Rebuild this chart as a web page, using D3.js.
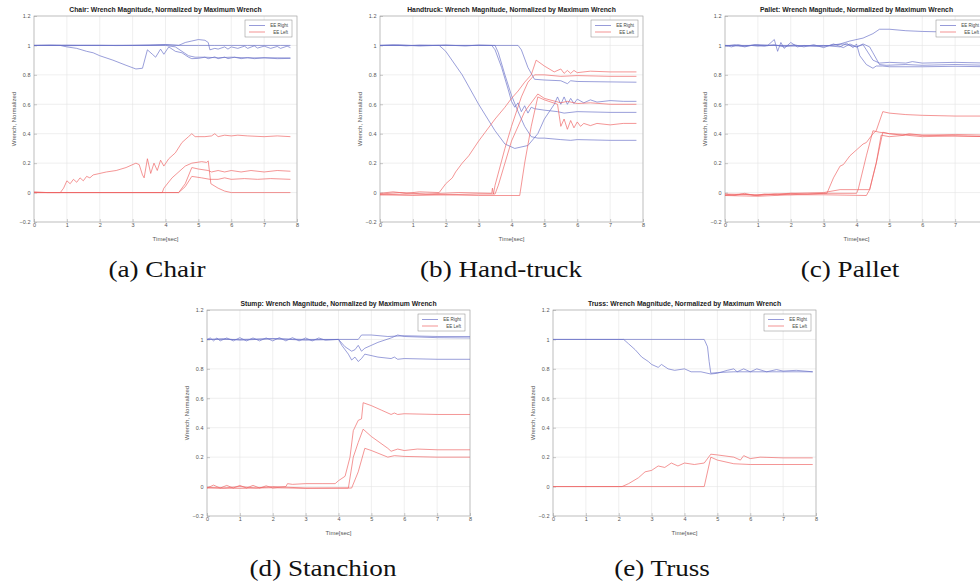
<!DOCTYPE html>
<html>
<head>
<meta charset="utf-8">
<script src="https://cdn.jsdelivr.net/npm/d3@7"></script>
<style>
  body { margin: 0; background: #fff; }
</style>
</head>
<body>
<div class="chart"></div>
<script>
const xTicks = [0, 1, 2, 3, 4, 5, 6, 7, 8];
const yTicks = [-0.2, 0, 0.2, 0.4, 0.6, 0.8, 1, 1.2];
const legendLabels = ['EE Right', 'EE Left'];

// EE Right (blue) and EE Left (red) traces, [time, normalized wrench]
const chairRight = [
  [[0,1],[0.5,1.002],[1,0.998],[1.5,1],[2,1.001],[2.5,0.999],[3,1],[3.5,1],[4,1.004],[4.5,1],[5,1],[5.5,1],[6,1],[6.5,1],[7,1],[7.5,1],[7.8,1]],
  [[0,1],[1,1.002],[2,1],[3,1.001],[4,1.006],[4.4,1],[4.6,1.02],[4.8,1.03],[5,1.04],[5.2,1.035],[5.3,1.02],[5.35,0.97],[5.5,0.98],[5.6,0.975],[5.8,0.99],[5.9,0.975],[6,0.99],[6.2,0.98],[6.4,0.995],[6.5,0.98],[6.7,0.997],[6.8,0.982],[7,0.995],[7.2,0.98],[7.4,0.993],[7.5,0.98],[7.7,0.995],[7.8,0.985]],
  [[0,1],[0.8,1],[1,0.99],[1.3,0.98],[1.6,0.96],[1.8,0.95],[2,0.93],[2.4,0.9],[2.8,0.865],[3.1,0.84],[3.3,0.845],[3.45,0.97],[3.6,0.94],[3.7,0.92],[3.85,0.975],[3.95,0.94],[4.1,0.99],[4.3,0.96],[4.5,0.95],[4.7,0.92],[4.8,0.91],[5,0.912],[5.2,0.92],[5.3,0.91],[5.5,0.922],[5.6,0.91],[5.8,0.921],[5.9,0.91],[6.1,0.92],[6.3,0.91],[6.5,0.918],[6.7,0.91],[7,0.916],[7.4,0.91],[7.8,0.912]],
  [[0,1],[2,1],[4,1],[4.3,0.99],[4.5,0.96],[4.7,0.93],[4.9,0.92],[5.2,0.92],[5.6,0.916],[6,0.92],[6.5,0.915],[7,0.916],[7.8,0.915]]
];
const chairLeft = [
  [[0,0.005],[0.4,0],[0.8,0],[0.9,0.03],[1,0.08],[1.1,0.06],[1.2,0.09],[1.3,0.07],[1.4,0.1],[1.5,0.08],[1.6,0.11],[1.7,0.1],[1.8,0.12],[2,0.13],[2.2,0.14],[2.5,0.15],[2.8,0.17],[3.1,0.2],[3.2,0.19],[3.3,0.12],[3.35,0.1],[3.45,0.23],[3.55,0.13],[3.65,0.2],[3.75,0.15],[3.85,0.22],[3.95,0.18],[4.1,0.23],[4.3,0.27],[4.5,0.34],[4.7,0.38],[4.8,0.4],[4.9,0.38],[5.2,0.38],[5.4,0.385],[5.5,0.4],[5.6,0.38],[5.8,0.39],[6,0.385],[6.2,0.39],[6.5,0.385],[7,0.38],[7.4,0.385],[7.8,0.38]],
  [[0,0],[2,0],[3.9,0],[3.95,0.03],[4.2,0.1],[4.6,0.18],[4.8,0.2],[5.1,0.21],[5.25,0.205],[5.3,0.215],[5.38,0.06],[5.6,0.03],[5.8,0.01],[6,0],[7,0],[7.8,0]],
  [[0,0],[4.4,0],[4.6,0.06],[4.8,0.17],[5,0.16],[5.3,0.15],[5.4,0.14],[5.6,0.15],[5.8,0.14],[6,0.15],[6.3,0.14],[6.6,0.15],[7,0.14],[7.4,0.15],[7.8,0.145]],
  [[0,0],[4.4,0],[4.6,0.04],[4.8,0.11],[5.1,0.1],[5.35,0.09],[5.6,0.09],[5.8,0.1],[6,0.09],[6.4,0.095],[6.8,0.09],[7.2,0.095],[7.8,0.09]]
];

const handtruckRight = [
  [[0,1],[0.4,1.003],[0.8,0.997],[1.2,1.002],[1.8,1],[2,0.96],[2.5,0.8],[3,0.6],[3.5,0.42],[3.8,0.33],[4.1,0.3],[4.5,0.32],[4.8,0.4],[5,0.5],[5.3,0.6],[5.4,0.65],[5.5,0.6],[5.6,0.65],[5.7,0.6],[5.8,0.64],[5.9,0.605],[6,0.635],[6.2,0.61],[6.4,0.63],[6.6,0.615],[7,0.625],[7.4,0.62],[7.8,0.62]],
  [[0,1],[0.6,1.004],[1.2,0.996],[2,1.003],[2.6,0.996],[3,1.003],[3.4,1],[3.5,0.97],[3.7,0.85],[3.9,0.7],[4,0.62],[4.1,0.58],[4.2,0.61],[4.3,0.55],[4.4,0.59],[4.5,0.54],[4.6,0.58],[4.7,0.57],[5,0.56],[5.4,0.55],[5.6,0.54],[6,0.55],[7,0.545],[7.8,0.545]],
  [[0,1],[1.5,1],[3,1],[3.5,1],[3.6,0.95],[3.8,0.8],[4,0.66],[4.2,0.55],[4.4,0.45],[4.6,0.38],[4.8,0.37],[5,0.37],[5.5,0.36],[5.8,0.355],[6,0.36],[7,0.355],[7.8,0.355]],
  [[0,1],[2,1],[4.2,1],[4.3,0.97],[4.5,0.85],[4.7,0.77],[5,0.765],[5.5,0.76],[5.7,0.74],[5.8,0.76],[6,0.755],[7,0.752],[7.8,0.75]]
];
const handtruckLeft = [
  [[0,-0.005],[0.4,0.005],[0.8,-0.005],[1.2,0.005],[1.8,0],[2,0.06],[2.2,0.1],[2.3,0.14],[2.5,0.2],[2.7,0.25],[3,0.35],[3.2,0.41],[3.5,0.5],[3.8,0.58],[4,0.64],[4.2,0.69],[4.4,0.75],[4.6,0.8],[4.75,0.9],[5,0.86],[5.3,0.82],[5.5,0.84],[5.6,0.81],[5.7,0.83],[5.8,0.81],[5.9,0.83],[6,0.815],[6.4,0.825],[7,0.82],[7.8,0.82]],
  [[0,-0.01],[0.6,0],[1.4,-0.01],[2.4,0],[3.4,-0.005],[3.42,0.03],[3.45,-0.01],[3.5,0.05],[3.8,0.3],[4,0.45],[4.3,0.65],[4.5,0.75],[4.7,0.8],[4.8,0.8],[5,0.8],[5.5,0.79],[6,0.795],[7,0.79],[7.8,0.79]],
  [[0,-0.015],[1,-0.01],[2,-0.015],[3,-0.01],[3.5,-0.01],[3.6,0.05],[4,0.35],[4.4,0.55],[4.8,0.67],[5,0.64],[5.5,0.61],[5.7,0.62],[6,0.605],[6.4,0.61],[7,0.6],[7.8,0.6]],
  [[0,-0.015],[1,-0.02],[2,-0.015],[3,-0.02],[4.25,-0.02],[4.4,0.2],[4.6,0.45],[4.8,0.65],[5,0.63],[5.4,0.6],[5.5,0.45],[5.6,0.5],[5.7,0.43],[5.8,0.49],[5.9,0.44],[6,0.48],[6.1,0.45],[6.2,0.47],[6.4,0.455],[6.6,0.47],[7,0.46],[7.4,0.47],[7.8,0.47]]
];

const palletRight = [
  [[0,1],[0.2,0.99],[0.4,1.005],[0.6,0.995],[0.8,1],[1,0.995],[1.3,1],[1.5,1.04],[1.6,0.96],[1.7,1.02],[1.8,0.98],[2,1.02],[2.2,0.99],[2.4,1],[2.8,0.995],[3.2,1],[3.5,1.01],[3.8,1.03],[4.2,1.05],[4.5,1.08],[4.7,1.11],[5,1.11],[5.5,1.1],[6,1.095],[7,1.09],[8,1.09]],
  [[0,0.995],[0.3,1.005],[0.6,0.99],[0.9,1.005],[1.2,0.995],[1.5,1.005],[1.8,0.99],[2.1,1.005],[2.4,0.99],[2.7,1.005],[3,0.985],[3.3,1.01],[3.6,0.985],[3.8,1.01],[4,0.99],[4.2,1.005],[4.3,0.97],[4.5,0.9],[4.7,0.88],[5,0.885],[5.5,0.88],[5.7,0.89],[6,0.88],[7,0.885],[8,0.88]],
  [[0,1],[0.5,0.995],[1,1.005],[2,0.995],[3,1],[3.5,0.99],[3.7,1.015],[3.9,0.985],[4,1.01],[4.1,0.93],[4.3,0.87],[4.5,0.845],[4.6,0.86],[4.8,0.86],[5,0.855],[6,0.855],[7,0.858],[8,0.855]],
  [[0,1],[1,1],[2,1],[3,0.995],[3.6,1.01],[4,0.99],[4.2,1.01],[4.4,0.99],[4.5,0.95],[4.7,0.87],[4.9,0.865],[5.5,0.87],[6,0.865],[7,0.87],[8,0.865]]
];
const palletLeft = [
  [[0,-0.01],[0.3,-0.02],[0.6,-0.005],[0.9,-0.02],[1.2,-0.01],[1.6,-0.015],[2,-0.005],[2.5,-0.01],[3.1,-0.005],[3.3,0.1],[3.5,0.18],[3.6,0.19],[3.8,0.25],[4,0.29],[4.2,0.33],[4.3,0.34],[4.5,0.4],[4.6,0.42],[4.8,0.55],[5,0.54],[5.5,0.53],[6,0.525],[7,0.52],[8,0.52]],
  [[0,-0.02],[0.5,-0.01],[1,-0.02],[1.5,-0.01],[2,-0.015],[3,-0.005],[4,-0.005],[4.05,0.02],[4.3,0.25],[4.5,0.42],[4.7,0.41],[5,0.4],[5.4,0.39],[5.6,0.4],[6,0.39],[7,0.385],[8,0.38]],
  [[0,-0.01],[1,-0.015],[2,-0.005],[3,0],[3.5,0.02],[4,0.02],[4.4,0.02],[4.6,0.2],[4.8,0.41],[5,0.4],[5.5,0.395],[6,0.39],[7,0.395],[8,0.39]],
  [[0,-0.02],[1,-0.025],[2,-0.015],[3,-0.015],[4.3,-0.02],[4.4,0.02],[4.6,0.2],[4.75,0.39],[5,0.38],[5.5,0.39],[6,0.38],[7,0.385],[8,0.38]]
];

const stumpRight = [
  [[0,1],[0.1,1.01],[0.2,0.99],[0.3,1.01],[0.4,0.99],[0.6,1.01],[0.8,0.99],[1,1.012],[1.2,0.99],[1.4,1.01],[1.6,0.99],[1.8,1.01],[2,0.99],[2.2,1.012],[2.4,0.99],[2.6,1.012],[2.8,0.99],[3,1.01],[3.2,0.99],[3.4,1.01],[3.6,0.995],[4,1],[4.6,1],[4.7,1.03],[5,1.03],[5.5,1.02],[6,1.025],[7,1.02],[8,1.02]],
  [[0,1],[0.5,1.005],[1,0.995],[2,1.005],[3,0.995],[4,1],[4.2,0.95],[4.4,0.92],[4.5,0.93],[4.6,0.96],[4.7,0.92],[4.8,0.94],[5.2,0.98],[5.6,1.01],[5.8,1.03],[6,1.02],[7,1.012],[8,1.01]],
  [[0,1],[1,1],[2,1.005],[3,1],[4,1],[4.1,0.96],[4.3,0.9],[4.4,0.86],[4.5,0.88],[4.6,0.85],[4.7,0.87],[4.8,0.9],[5.2,0.88],[5.6,0.87],[5.7,0.88],[5.8,0.865],[6,0.87],[7,0.865],[8,0.865]]
];
const stumpLeft = [
  [[0,-0.01],[0.2,0.01],[0.4,-0.01],[0.6,0.008],[0.8,-0.01],[1,0.008],[1.2,-0.01],[1.4,0.008],[1.6,-0.01],[1.8,0.005],[2,-0.01],[2.4,0],[2.45,0.02],[2.6,0.015],[3,0.02],[3.5,0.02],[3.9,0.02],[4,0.04],[4.2,0.07],[4.35,0.2],[4.45,0.38],[4.6,0.45],[4.7,0.46],[4.75,0.57],[5,0.55],[5.3,0.52],[5.6,0.49],[5.7,0.5],[5.8,0.49],[6,0.495],[7,0.49],[8,0.49]],
  [[0,-0.005],[0.5,-0.01],[1,0],[1.5,-0.01],[2,0],[3,-0.01],[4,-0.01],[4.3,-0.01],[4.45,0.2],[4.6,0.3],[4.75,0.39],[5,0.34],[5.5,0.26],[5.6,0.24],[5.8,0.255],[6,0.245],[6.4,0.255],[7,0.25],[8,0.25]],
  [[0,-0.01],[1,-0.012],[2,-0.008],[3,-0.012],[4.4,-0.01],[4.6,0.1],[4.8,0.26],[5,0.245],[5.5,0.2],[5.7,0.21],[6,0.205],[7,0.2],[8,0.2]]
];

const trussRight = [
  [[0,1],[1,1],[2.15,1],[2.3,0.97],[2.5,0.93],[2.7,0.88],[2.9,0.85],[3,0.83],[3.2,0.81],[3.3,0.83],[3.5,0.8],[3.7,0.79],[4,0.8],[4.2,0.78],[4.5,0.78],[4.8,0.765],[5,0.77],[5.3,0.79],[5.5,0.8],[5.6,0.78],[5.8,0.8],[6,0.78],[6.2,0.8],[6.5,0.78],[6.8,0.795],[7,0.785],[7.4,0.79],[7.9,0.78]],
  [[0,1],[2,1],[4.6,1],[4.7,0.95],[4.75,0.85],[4.8,0.77],[5,0.775],[5.5,0.78],[6,0.78],[7,0.78],[7.9,0.78]]
];
const trussLeft = [
  [[0,0],[1,0],[2.1,0],[2.3,0.02],[2.6,0.06],[2.8,0.1],[3,0.11],[3.2,0.14],[3.4,0.13],[3.6,0.16],[3.8,0.14],[4,0.16],[4.3,0.15],[4.6,0.16],[4.8,0.22],[5,0.215],[5.5,0.2],[5.7,0.18],[5.8,0.21],[6,0.19],[6.3,0.2],[7,0.195],[7.9,0.195]],
  [[0,0],[2,0],[4.6,0],[4.8,0.2],[5,0.18],[5.5,0.155],[6,0.15],[7,0.15],[7.9,0.15]]
];

const panels = [
  { name: 'Chair', caption: '(a) Chair', right: chairRight, left: chairLeft, x: 34, y: 16, cx: 157, cy: 277 },
  { name: 'Handtruck', caption: '(b) Hand-truck', right: handtruckRight, left: handtruckLeft, x: 380, y: 16, cx: 501, cy: 277 },
  { name: 'Pallet', caption: '(c) Pallet', right: palletRight, left: palletLeft, x: 725, y: 16, cx: 850, cy: 277 },
  { name: 'Stump', caption: '(d) Stanchion', right: stumpRight, left: stumpLeft, x: 207, y: 310, cx: 323, cy: 576 },
  { name: 'Truss', caption: '(e) Truss', right: trussRight, left: trussLeft, x: 553, y: 310, cx: 662, cy: 576 }
];

const width = 263;
const height = 206;
const blue = '#6a70c8';
const red = '#ee6464';

const svg = d3.select('.chart')
  .append('svg')
  .attr('width', 980)
  .attr('height', 584)
  .style('font-family', "'Liberation Sans', Arial, sans-serif");

const xScale = d3.scaleLinear().domain([0, 8]).range([0, width]);
const yScale = d3.scaleLinear().domain([-0.2, 1.2]).range([height, 0]);

const line = d3.line()
  .x(d => xScale(d[0]))
  .y(d => yScale(d[1]));

panels.forEach((p, i) => {
  const g = svg.append('g')
    .attr('transform', `translate(${p.x}, ${p.y})`);

  g.append('clipPath')
    .attr('id', `clip${i}`)
    .append('rect')
    .attr('width', width)
    .attr('height', height);

  // grid
  g.append('g')
    .selectAll('line')
    .data(xTicks)
    .enter()
    .append('line')
    .attr('x1', d => xScale(d))
    .attr('x2', d => xScale(d))
    .attr('y1', 0)
    .attr('y2', height)
    .attr('stroke', '#e4e4e4')
    .attr('stroke-width', 0.6);
  g.append('g')
    .selectAll('line')
    .data(yTicks)
    .enter()
    .append('line')
    .attr('x1', 0)
    .attr('x2', width)
    .attr('y1', d => yScale(d))
    .attr('y2', d => yScale(d))
    .attr('stroke', '#e4e4e4')
    .attr('stroke-width', 0.6);

  g.append('rect')
    .attr('width', width)
    .attr('height', height)
    .attr('fill', 'none')
    .attr('stroke', '#b0b0b0')
    .attr('stroke-width', 0.7);

  // axes (ticks beyond the window edge are left out, as in the cropped reference)
  const visibleX = xTicks.filter(t => p.x + xScale(t) < 976);
  const xAxis = d3.axisBottom(xScale)
    .tickValues(visibleX)
    .tickSize(-3)
    .tickFormat(d3.format('d'));
  const yAxis = d3.axisLeft(yScale)
    .tickValues(yTicks)
    .tickSize(-3)
    .tickFormat(d => d3.format('~g')(d));

  const xg = g.append('g')
    .attr('transform', `translate(0, ${height})`)
    .call(xAxis);
  const yg = g.append('g').call(yAxis);
  [xg, yg].forEach(a => {
    a.select('.domain').remove();
    a.selectAll('line').attr('stroke', '#999').attr('stroke-width', 0.5);
    a.selectAll('text')
      .attr('fill', '#555')
      .attr('font-size', '5.5px')
      .attr('font-family', "'Liberation Sans', Arial, sans-serif");
  });
  xg.selectAll('text').attr('dy', '0.3em');
  yg.selectAll('text').attr('dx', '-0.1em');

  // series
  const lines = g.append('g').attr('clip-path', `url(#clip${i})`);
  lines.selectAll('path.right')
    .data(p.right)
    .enter()
    .append('path')
    .attr('class', 'right')
    .attr('d', line)
    .attr('fill', 'none')
    .attr('stroke', blue)
    .attr('stroke-width', 0.8)
    .attr('opacity', 0.85);
  lines.selectAll('path.left')
    .data(p.left)
    .enter()
    .append('path')
    .attr('class', 'left')
    .attr('d', line)
    .attr('fill', 'none')
    .attr('stroke', red)
    .attr('stroke-width', 0.8)
    .attr('opacity', 0.85);

  // legend
  const lg = g.append('g')
    .attr('transform', `translate(${width - 52}, 4)`);
  lg.append('rect')
    .attr('width', 47)
    .attr('height', 17)
    .attr('fill', '#fff')
    .attr('stroke', '#888')
    .attr('stroke-width', 0.5);
  legendLabels.forEach((label, k) => {
    lg.append('line')
      .attr('x1', 4)
      .attr('x2', 20)
      .attr('y1', 5.5 + k * 6.5)
      .attr('y2', 5.5 + k * 6.5)
      .attr('stroke', k === 0 ? blue : red)
      .attr('stroke-width', 0.7);
    lg.append('text')
      .attr('x', 43)
      .attr('y', 5.5 + k * 6.5)
      .attr('dy', '0.35em')
      .attr('text-anchor', 'end')
      .attr('font-size', '4.5px')
      .attr('fill', '#444')
      .text(label);
  });

  // title and labels
  g.append('text')
    .attr('x', width / 2)
    .attr('y', -4)
    .attr('text-anchor', 'middle')
    .attr('font-size', '6.8px')
    .attr('font-weight', 'bold')
    .attr('fill', '#222')
    .text(`${p.name}: Wrench Magnitude, Normalized by Maximum Wrench`);

  g.append('text')
    .attr('x', width / 2)
    .attr('y', height + 19)
    .attr('text-anchor', 'middle')
    .attr('font-size', '6px')
    .attr('fill', '#555')
    .text('Time[sec]');

  g.append('text')
    .attr('transform', `translate(-18, ${height / 2}) rotate(-90)`)
    .attr('text-anchor', 'middle')
    .attr('font-size', '6px')
    .attr('fill', '#555')
    .text('Wrench, Normalized');

  // caption
  svg.append('text')
    .attr('transform', `translate(${p.cx}, ${p.cy}) scale(1.18, 1)`)
    .attr('text-anchor', 'middle')
    .attr('font-family', "'Liberation Serif', 'Times New Roman', serif")
    .attr('font-size', '23px')
    .attr('fill', '#111')
    .text(p.caption);
});
</script>
</body>
</html>
